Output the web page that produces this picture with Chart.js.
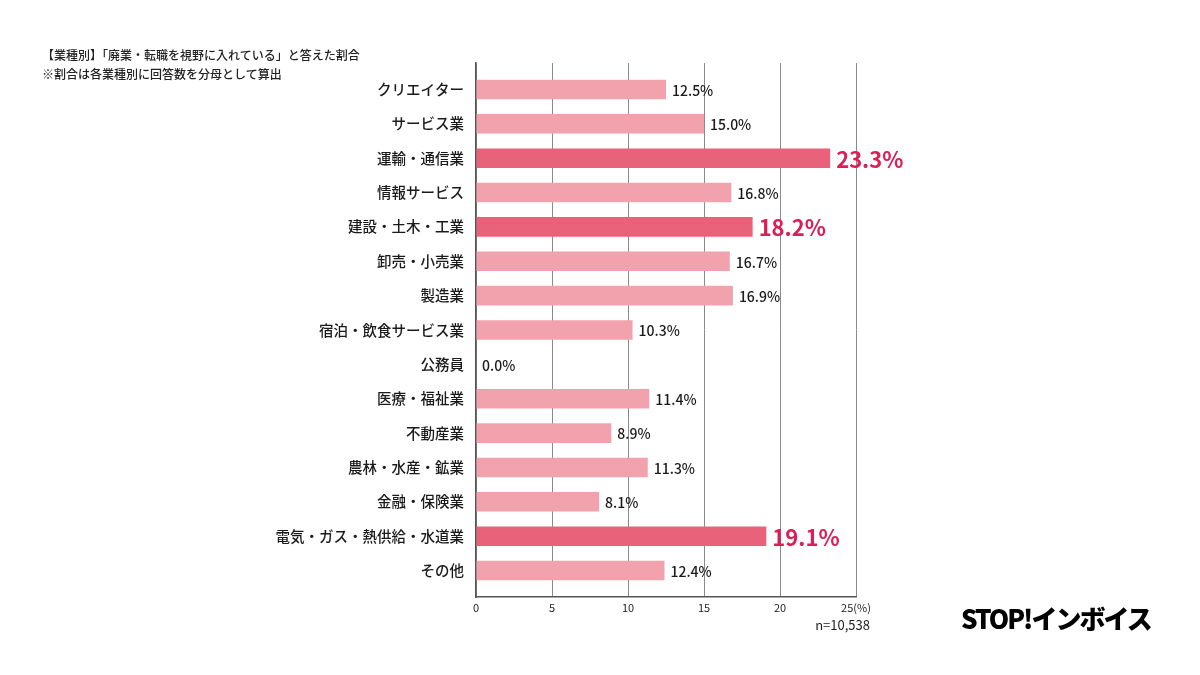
<!DOCTYPE html>
<html lang="ja">
<head>
<meta charset="utf-8">
<script src="https://cdn.jsdelivr.net/npm/chart.js@4.4.1/dist/chart.umd.min.js"></script>
<style>
  html, body { margin: 0; padding: 0; background: #fff; }
  #wrap { position: relative; width: 1200px; height: 675px; }
  #chart { position: absolute; left: 0; top: 0; }
  .note { position: absolute; left: 42px; font-family: "Noto Sans CJK JP", sans-serif; font-size: 12px; font-weight: 500; color: #222; white-space: nowrap; }
  #sample { position: absolute; right: 330px; top: 615px; font-family: "Noto Sans CJK JP", sans-serif; font-size: 13px; color: #222; }
  #logo { position: absolute; left: 961px; top: 599px; font-family: "Noto Sans CJK JP", sans-serif; font-size: 26px; font-weight: 900; color: #000; letter-spacing: -2px; white-space: nowrap; }
</style>
</head>
<body>
<div id="wrap">
  <canvas id="chart" width="1200" height="675"></canvas>
  <div class="note" style="top:46px">【業種別】「廃業・転職を視野に入れている」と答えた割合</div>
  <div class="note" style="top:65px">※割合は各業種別に回答数を分母として算出</div>
  <div id="sample">n=10,538</div>
  <div id="logo">STOP!インボイス</div>
</div>
<script>
const categories = [
  "クリエイター", "サービス業", "運輸・通信業", "情報サービス", "建設・土木・工業",
  "卸売・小売業", "製造業", "宿泊・飲食サービス業", "公務員", "医療・福祉業",
  "不動産業", "農林・水産・鉱業", "金融・保険業", "電気・ガス・熱供給・水道業", "その他"
];
const shares = [12.5, 15.0, 23.3, 16.8, 18.2, 16.7, 16.9, 10.3, 0.0, 11.4, 8.9, 11.3, 8.1, 19.1, 12.4];
const highlighted = ["運輸・通信業", "建設・土木・工業", "電気・ガス・熱供給・水道業"];
const xTicks = [0, 5, 10, 15, 20, 25];

const lightPink = "#f2a2ad";
const darkPink = "#e8637a";
const accentText = "#db1f56";

const isHot = (i) => highlighted.includes(categories[i]);

const valueLabels = {
  id: "valueLabels",
  afterDatasetsDraw(chart) {
    const ctx = chart.ctx;
    const meta = chart.getDatasetMeta(0);
    ctx.save();
    ctx.textBaseline = "middle";
    ctx.textAlign = "left";
    meta.data.forEach((bar, i) => {
      const hot = isHot(i);
      ctx.fillStyle = hot ? accentText : "#1a1a1a";
      ctx.font = hot
        ? "bold 22px 'Noto Sans CJK JP', sans-serif"
        : "500 14px 'Noto Sans CJK JP', sans-serif";
      ctx.fillText(shares[i].toFixed(1) + "%", bar.x + 6, bar.y + 1);
    });
    ctx.restore();
  }
};

new Chart(document.getElementById("chart"), {
  type: "bar",
  data: {
    datasets: [{
      data: shares.map((v, i) => ({ x: v, y: i })),
      backgroundColor: shares.map((v, i) => (isHot(i) ? darkPink : lightPink)),
      borderWidth: 0,
      barPercentage: 0.57,
      categoryPercentage: 1
    }]
  },
  options: {
    indexAxis: "y",
    responsive: false,
    animation: false,
    events: [],
    layout: { padding: { left: 0, right: 344, top: 63, bottom: 48 } },
    plugins: { legend: { display: false }, tooltip: { enabled: false } },
    scales: {
      x: {
        type: "linear",
        min: 0,
        max: 25,
        bounds: "data",
        afterBuildTicks: (scale) => { scale.ticks = xTicks.map((v) => ({ value: v })); },
        afterFit: (scale) => { scale.height = 30; },
        ticks: {
          color: "#222",
          font: { family: "'Noto Sans CJK JP', sans-serif", size: 11 },
          padding: 4,
          callback: (v) => (v === 25 ? "25(%)" : String(v))
        },
        grid: { color: "#8a8a8a", lineWidth: 1, drawTicks: false },
        border: { color: "#555", width: 1.5 }
      },
      y: {
        type: "linear",
        reverse: true,
        offset: false,
        bounds: "data",
        min: -0.77,
        max: categories.length - 1 + 0.77,
        afterBuildTicks: (scale) => { scale.ticks = categories.map((c, i) => ({ value: i })); },
        afterDataLimits: (scale) => { scale.min = -0.77; scale.max = categories.length - 1 + 0.77; },
        afterFit: (scale) => { scale.width = 476; },
        ticks: {
          color: "#1a1a1a",
          font: { family: "'Noto Sans CJK JP', sans-serif", size: 14.5, weight: "500" },
          padding: 4,
          callback: (v) => categories[v] ?? ""
        },
        grid: { display: false, offset: false },
        border: { color: "#555", width: 1.5 }
      }
    }
  },
  plugins: [valueLabels]
});
</script>
</body>
</html>
